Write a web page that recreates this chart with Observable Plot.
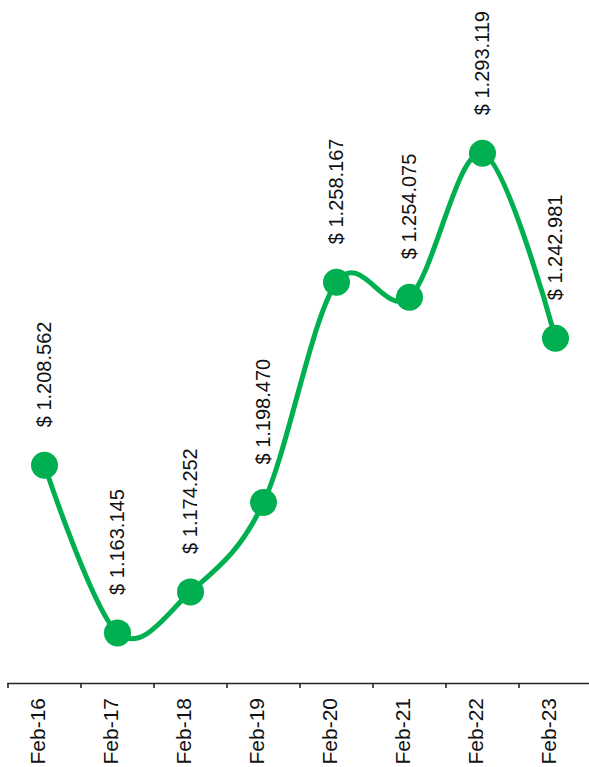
<!DOCTYPE html>
<html>
<head>
<meta charset="utf-8">
<script src="https://cdn.jsdelivr.net/npm/d3@7"></script>
<script src="https://cdn.jsdelivr.net/npm/@observablehq/plot@0.6"></script>
<style>
  html, body { margin: 0; padding: 0; background: #fff; }
  #chart svg { display: block; overflow: visible; }
</style>
</head>
<body>
<div id="chart"></div>
<script>
const categories = ["Feb-16", "Feb-17", "Feb-18", "Feb-19", "Feb-20", "Feb-21", "Feb-22", "Feb-23"];
const values = [1208562, 1163145, 1174252, 1198470, 1258167, 1254075, 1293119, 1242981];
const valueLabels = ["$ 1.208.562", "$ 1.163.145", "$ 1.174.252", "$ 1.198.470", "$ 1.258.167", "$ 1.254.075", "$ 1.293.119", "$ 1.242.981"];

const data = categories.map((c, i) => ({i, category: c, value: values[i], label: valueLabels[i]}));
const bandEdges = d3.range(categories.length + 1).map(k => k - 0.5);

const green = "#00B050";

const chart = Plot.plot({
  width: 589,
  height: 767,
  marginTop: 0,
  marginBottom: 84,
  marginLeft: 7.5,
  marginRight: 0,
  style: {fontFamily: "'Liberation Sans', Arial, sans-serif", background: "#fff"},
  x: {type: "linear", domain: [-0.5, categories.length - 0.5], range: [7.5, 591.5], axis: null},
  y: {domain: [1149437, 1334485], axis: null},
  marks: [
    Plot.frame({anchor: "bottom", stroke: "#262626", strokeWidth: 1.6}),
    Plot.axisX({ticks: bandEdges, tickSize: 5, tickFormat: () => "", label: null, stroke: "#262626", strokeWidth: 1.6}),
    Plot.text(data, {x: "i", text: "category", frameAnchor: "bottom", dy: 81, rotate: -90, textAnchor: "start", fontSize: 21, fill: "#111"}),
    Plot.line(data, {x: "i", y: "value", curve: "cardinal", tension: 0, stroke: green, strokeWidth: 5}),
    Plot.dot(data, {x: "i", y: "value", r: 13.5, fill: green}),
    Plot.text(data, {x: "i", y: "value", text: "label", rotate: -90, textAnchor: "start", dy: -38, fontSize: 20, fill: "#111"})
  ]
});
document.getElementById("chart").appendChild(chart);
</script>
</body>
</html>
